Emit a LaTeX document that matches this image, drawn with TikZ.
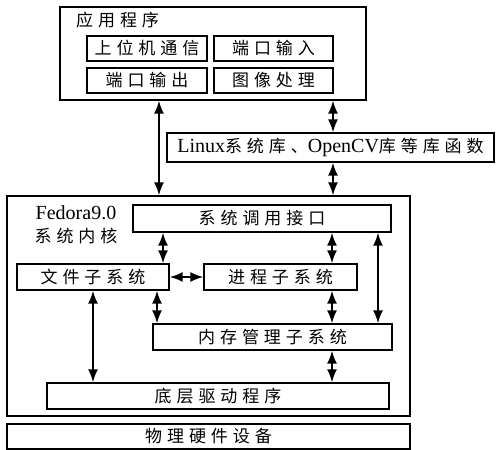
\documentclass[tikz,border=0pt]{standalone}
\usepackage{fontspec}
\setmainfont{Liberation Serif}
\newfontfamily\zhfont[LetterSpace=29]{Noto Sans CJK SC}
\newcommand{\zh}[1]{{\zhfont #1}}
\usetikzlibrary{arrows.meta}
\begin{document}
\begin{tikzpicture}[x=1pt,y=-1pt,
  box/.style={draw, line width=1.2pt, inner sep=0pt, font=\fontsize{17}{19}\selectfont},
  lbl/.style={inner sep=0pt, font=\fontsize{17}{19}\selectfont},
  dbl/.style={line width=2pt, {Latex[length=13pt,width=10pt]}-{Latex[length=13pt,width=10pt]}}]
\useasboundingbox (0,0) rectangle (496,450);
% application layer
\node[box, minimum width=306, minimum height=93] (app) at (213,53.5) {};
\node[lbl, anchor=west] (apptitle) at (76,20) {\zh{应用程序}};
\node[box, minimum width=120, minimum height=25] (s1) at (147,48.5) {\zh{上位机通信}};
\node[box, minimum width=119, minimum height=25] (s2) at (273.5,48.5) {\zh{端口输入}};
\node[box, minimum width=120, minimum height=25] (s3) at (147,80.5) {\zh{端口输出}};
\node[box, minimum width=119, minimum height=25] (s4) at (273.5,80.5) {\zh{图像处理}};
% libraries
\node[box, minimum width=327, minimum height=29, font=\fontsize{20}{22}\selectfont] (lib) at (330.5,147.5) {Linux\zh{\fontsize{17}{19}\selectfont 系统库、}OpenCV\zh{\fontsize{17}{19}\selectfont 库等库函数}};
% kernel
\node[box, minimum width=403, minimum height=220] (kern) at (208.5,306) {};
\node[lbl, font=\fontsize{20}{22}\selectfont] (fed) at (76,213) {Fedora9.0};
\node[lbl] (kt) at (76,236) {\zh{系统内核}};
\node[box, minimum width=258, minimum height=27] (sys) at (262,218.5) {\zh{系统调用接口}};
\node[box, minimum width=152, minimum height=26] (file) at (93,277) {\zh{文件子系统}};
\node[box, minimum width=153, minimum height=26] (proc) at (280.5,277) {\zh{进程子系统}};
\node[box, minimum width=239, minimum height=26] (mem) at (272.5,337) {\zh{内存管理子系统}};
\node[box, minimum width=342, minimum height=26] (drv) at (218,396) {\zh{底层驱动程序}};
\node[box, minimum width=403, minimum height=25] (hw) at (208.5,436.5) {\zh{物理硬件设备}};
% connector x positions
\coordinate (xa) at (159,0);
\coordinate (xb) at (333,0);
\coordinate (xc) at (163,0);
\coordinate (xd) at (332,0);
\coordinate (xe) at (378,0);
\coordinate (xf) at (157,0);
\coordinate (xg) at (93,0);
\draw[dbl] (app.south -| xa) -- (kern.north -| xa);
\draw[dbl] (app.south -| xb) -- (lib.north -| xb);
\draw[dbl] (lib.south -| xb) -- (kern.north -| xb);
\draw[dbl] (sys.south -| xc) -- (file.north -| xc);
\draw[dbl] (sys.south -| xd) -- (proc.north -| xd);
\draw[dbl] (sys.south -| xe) -- (mem.north -| xe);
\draw[dbl] (file.east) -- (proc.west);
\draw[dbl] (file.south -| xf) -- (mem.north -| xf);
\draw[dbl] (proc.south -| xd) -- (mem.north -| xd);
\draw[dbl] (file.south -| xg) -- (drv.north -| xg);
\draw[dbl] (mem.south -| xd) -- (drv.north -| xd);
\end{tikzpicture}
\end{document}
